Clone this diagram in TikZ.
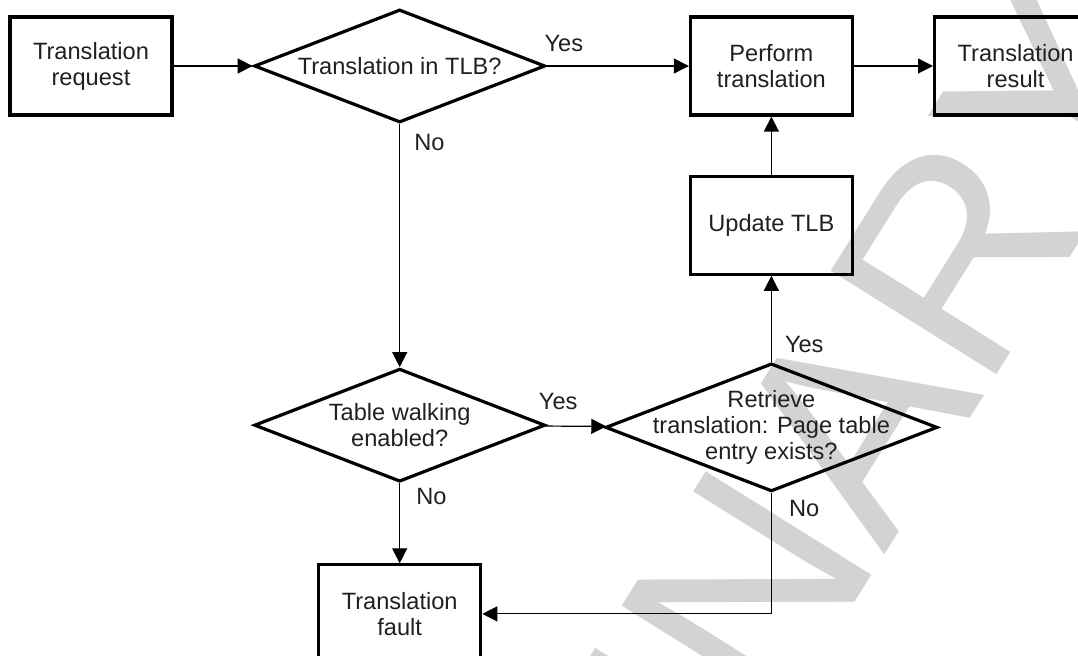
\documentclass[tikz,border=0pt]{standalone}
\usepackage{fontspec}
\setmainfont{Liberation Sans}
\usetikzlibrary{positioning,shapes.geometric,arrows.meta}
\definecolor{fcink}{HTML}{231F20}
\definecolor{fcmark}{HTML}{D3D3D3}
\tikzset{
  fcbox/.style ={rectangle, draw=black, line width=1.6pt, text=fcink, align=center,
                 minimum width=81pt, minimum height=49pt, inner sep=2pt},
  fcdec/.style ={diamond, draw=black, line width=1.6pt, inner sep=0pt,
                 minimum width=145.5pt, minimum height=56.5pt},
  fcbig/.style ={fcdec, minimum width=166pt, minimum height=64pt},
  fctxt/.style ={text=fcink, align=center, inner sep=0pt},
  fl/.style    ={-{Triangle[length=7.5pt,width=7.5pt]}, line width=0.6pt, draw=black},
  lbl/.style   ={text=fcink, inner sep=0pt}
}

\begin{document}
\begin{tikzpicture}[x=0.5pt,y=-0.5pt,font=\fontsize{11.8}{13}\selectfont]
  \useasboundingbox (0,0) rectangle (1078,656);
  \clip (0,0) rectangle (1078,656);

  % watermark
  \node[rotate=58, anchor=base east, text=fcmark, inner sep=0pt,
        font=\fontsize{142}{142}\selectfont] (wm) at (1191,64) {PRELIMINARY};

  \node[fcbox] (req) at (91,66) {Translation\\request};
  \node[fcdec,right=39.5pt of req] (tlb) {};
  \node[fctxt] (tlbtx) at (tlb) {Translation in TLB?};
  \node[fcbox,right=71pt of tlb]   (perf) {Perform\\translation};
  \node[fcbox,right=39.5pt of perf] (res) {Translation\\result};
  \node[fcbox,below=29pt of perf]  (upd) {Update TLB};
  \node[fcbig,below=43pt of upd]   (retr) {};
  \node[fctxt] (retrtx) at (retr) {Retrieve\\translation: Page table\\entry exists?};
  \node[fcdec,below=121.5pt of tlb] (walk) {};
  \node[fctxt] (walktx) at (walk) {Table walking\\enabled?};
  \node[fcbox,below=40pt of walk]  (fault) {Translation\\fault};

  \draw[fl] (req)--(tlb);
  \draw[fl] (tlb)-- node[lbl,pos=0.12,above=7pt] {Yes} (perf);
  \draw[fl] (perf)--(res);
  \draw[fl] (upd)--(perf);
  \draw[fl] (retr)-- node[lbl,pos=0.2,right=6.5pt] {Yes} (upd);
  \draw[fl] (tlb)-- node[lbl,pos=0.074,right=7pt] {No} (walk);
  \draw[fl] (walk)-- node[lbl,pos=0.22,above=8pt] {Yes} (retr);
  \draw[fl] (walk)-- node[lbl,pos=0.16,right=8pt] {No} (fault);
  \draw[fl] (retr) |- node[lbl,pos=0.065,right=8.5pt] {No} (fault);
\end{tikzpicture}
\end{document}
